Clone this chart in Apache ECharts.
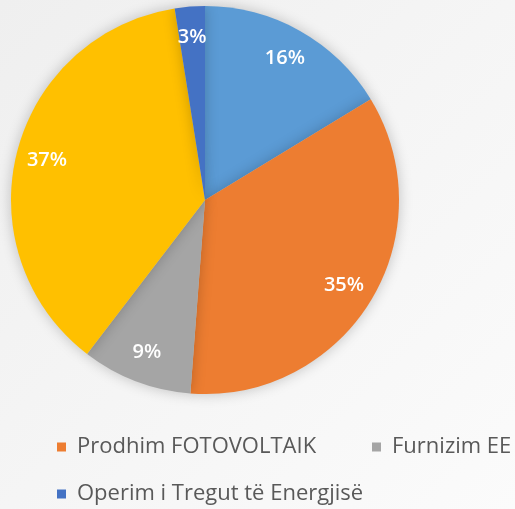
<!DOCTYPE html>
<html>
<head>
<meta charset="utf-8">
<script src="https://cdn.jsdelivr.net/npm/echarts@6/dist/echarts.min.js"></script>
<style>
  html, body { margin: 0; padding: 0; }
  #main { width: 515px; height: 509px; }
</style>
</head>
<body>
<div id="main"></div>
<script>
// slices, clockwise from 12 o'clock (shares)
var names = ['Prodhim HEC', 'Prodhim FOTOVOLTAIK', 'Furnizim EE', 'Shpërndarje', 'Operim i Tregut të Energjisë'];
var values = [16.3, 34.9, 9.2, 37.1, 2.5];
var colors = ['#5B9BD5', '#ED7D31', '#A5A5A5', '#FFC000', '#4472C4'];
// visible legend entries: row 1 left, row 1 right, row 2
var legendA = ['Prodhim FOTOVOLTAIK'];
var legendB = ['Furnizim EE'];
var legendC = ['Operim i Tregut të Energjisë'];

var pieData = [];
for (var i = 0; i < names.length; i++) {
    pieData.push({ name: names[i], value: values[i], itemStyle: { color: colors[i] } });
}
var labelData = [];
for (var i = 0; i < names.length; i++) {
    labelData.push({ name: names[i], value: values[i] });
}

var legendText = {
    color: '#595959',
    fontSize: 22,
    fontFamily: 'Open Sans',
    padding: [0, 0, 0, 6]
};
function makeLegend(list, left, top) {
    return {
        data: list,
        left: left,
        top: top,
        icon: 'rect',
        itemWidth: 9,
        itemHeight: 9,
        textStyle: legendText,
        selectedMode: false
    };
}

var myChart = echarts.init(document.getElementById('main'));
var option = {
    backgroundColor: {
        type: 'linear', x: 0, y: 0, x2: 1, y2: 1,
        colorStops: [{ offset: 0, color: '#efefef' }, { offset: 1, color: '#fbfbfb' }]
    },
    animation: false,
    legend: [
        makeLegend(legendA, 52, 431),
        makeLegend(legendB, 367, 431),
        makeLegend(legendC, 52, 478)
    ],
    series: [
        {
            type: 'pie',
            center: [205, 200],
            radius: 194,
            startAngle: 90,
            data: pieData,
            label: { show: false },
            labelLine: { show: false },
            itemStyle: {
                borderWidth: 0,
                shadowBlur: 14,
                shadowColor: 'rgba(0,0,0,0.22)'
            },
            silent: true
        },
        {
            type: 'pie',
            center: [205, 200],
            radius: [126, 194],
            startAngle: 90,
            percentPrecision: 0,
            data: labelData,
            itemStyle: { color: 'transparent' },
            silent: true,
            label: {
                show: true,
                position: 'inside',
                formatter: '{d}%',
                color: '#fff',
                fontSize: 20,
                fontWeight: 600,
                fontFamily: 'Open Sans'
            },
            labelLine: { show: false }
        }
    ]
};
myChart.setOption(option);
</script>
</body>
</html>
